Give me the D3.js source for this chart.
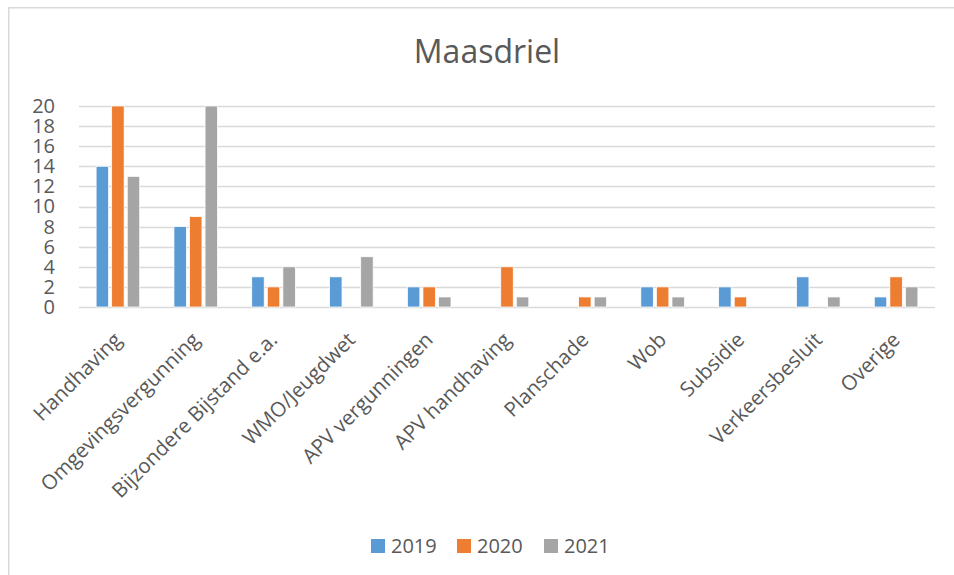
<!DOCTYPE html>
<html>
<head>
<meta charset="utf-8">
<script src="https://cdn.jsdelivr.net/npm/d3@7"></script>
<style>
  body { margin: 0; background: #fff; }
  text { font-family: "Open Sans", sans-serif; fill: #595959; }
</style>
</head>
<body>
<div id="chart"></div>
<script>
let categories = ["Handhaving", "Omgevingsvergunning", "Bijzondere Bijstand e.a.", "WMO/Jeugdwet",
    "APV vergunningen", "APV handhaving", "Planschade", "Wob", "Subsidie", "Verkeersbesluit", "Overige"];
let years = ["2019", "2020", "2021"];
let values2019 = [14, 8, 3, 3, 2, 0, 0, 2, 2, 3, 1];
let values2020 = [20, 9, 2, 0, 2, 4, 1, 2, 1, 0, 3];
let values2021 = [13, 20, 4, 5, 1, 1, 1, 1, 0, 1, 2];
let yTicks = [0, 2, 4, 6, 8, 10, 12, 14, 16, 18, 20];
let colors = ["#5B9BD5", "#ED7D31", "#A5A5A5"];

let series = [values2019, values2020, values2021];

let margin = { top: 106, right: 19, bottom: 268, left: 79 },
    width = 954 - margin.left - margin.right,
    height = 575 - margin.top - margin.bottom;

let svg = d3.select("#chart")
    .append("svg")
    .attr("width", 954)
    .attr("height", 575);

// chart frame (only top and left edges are in view)
svg.append("path")
    .attr("d", "M8.75,575V7.75H954")
    .attr("fill", "none")
    .attr("stroke", "#D9D9D9")
    .attr("stroke-width", 1.5);

svg.append("text")
    .attr("x", 487)
    .attr("y", 63)
    .attr("text-anchor", "middle")
    .style("font-size", "32px")
    .text("Maasdriel");

let g = svg.append("g")
    .attr("transform", "translate(" + margin.left + "," + margin.top + ")");

let x = d3.scaleBand()
    .domain(categories)
    .range([0, width])
    .paddingInner(0)
    .paddingOuter(0);

let x1 = d3.scaleBand()
    .domain(years)
    .range([14, x.bandwidth() - 14])
    .padding(0.2);

let y = d3.scaleLinear()
    .domain([0, 20])
    .range([height, 0]);

// gridlines
g.selectAll(".grid")
    .data(yTicks)
    .enter()
    .append("line")
    .attr("x1", 0)
    .attr("x2", width)
    .attr("y1", d => Math.round(y(d)) + 0.5)
    .attr("y2", d => Math.round(y(d)) + 0.5)
    .attr("stroke", "#D9D9D9")
    .attr("stroke-width", 1.5);

let yAxis = g.append("g")
    .call(d3.axisLeft(y).tickValues(yTicks).tickSize(0).tickPadding(24));
yAxis.select(".domain").remove();
yAxis.selectAll("text")
    .style("font-size", "20px")
    .attr("fill", "#595959");

// bars
years.forEach(function (yr, si) {
    g.selectAll(".bar" + yr)
        .data(series[si])
        .enter()
        .append("rect")
        .attr("x", (d, i) => x(categories[i]) + x1(yr))
        .attr("width", x1.bandwidth())
        .attr("y", d => y(d))
        .attr("height", d => height - y(d))
        .attr("fill", colors[si])
        .attr("stroke", "#fff")
        .attr("stroke-width", 0.75);
});

// category labels
g.selectAll(".xlab")
    .data(categories)
    .enter()
    .append("text")
    .attr("transform", d => "translate(" + (x(d) + x.bandwidth() / 2) + "," + (height + 29) + ") rotate(-45)")
    .attr("text-anchor", "end")
    .attr("dy", "0.35em")
    .style("font-size", "20.5px")
    .text(d => d);

// legend
let legend = svg.append("g")
    .attr("transform", "translate(371,539)");
let legendX = [0, 86, 173];
years.forEach(function (yr, i) {
    legend.append("rect")
        .attr("x", legendX[i])
        .attr("y", 0)
        .attr("width", 14)
        .attr("height", 14)
        .attr("fill", colors[i]);
    legend.append("text")
        .attr("x", legendX[i] + 20)
        .attr("y", 14)
        .style("font-size", "20px")
        .text(yr);
});
</script>
</body>
</html>
